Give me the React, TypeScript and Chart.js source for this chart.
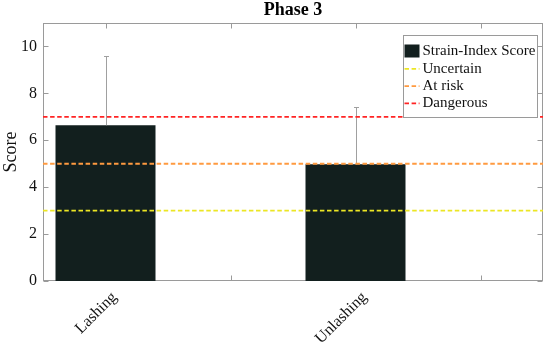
import React, { useEffect, useRef } from "react";
import { Chart, registerables } from "chart.js";

Chart.register(...registerables);

// ---- data ----
const categories = ["Lashing", "Unlashing"];
const categoryPositions = [1, 2];
const scores = [6.64, 4.98];
const upperErrors = [2.96, 2.42];
const xTickValues = [1, 1.5, 2, 2.5];
const yTickValues = [0, 2, 4, 6, 8, 10];
const xRange = [0.75, 2.75];
const yRange = [0, 11];
const thresholdNames = ["Uncertain", "At risk", "Dangerous"];
const thresholdValues = [3, 5, 7];
const thresholdColors = ["#ece624", "#ff9a40", "#ff2424"];
const barLabel = "Strain-Index Score";
const titleText = "Phase 3";
const yAxisLabel = "Score";

// ---- styles ----
const FONT = "'Liberation Serif', 'Times New Roman', Times, serif";
const BAR_COLOR = "#121f1e";
const AXIS_COLOR = "#9a9a9a";
const ERR_COLOR = "#a0a0a0";
const TEXT_COLOR = "#111";
const DASH = [4.5, 2.6];

const decorPlugin = {
  id: "decor",
  beforeDatasetsDraw(chart: any) {
    const { ctx, chartArea: a, scales } = chart;
    ctx.save();
    ctx.strokeStyle = AXIS_COLOR;
    ctx.lineWidth = 1;
    const L = Math.round(a.left) + 0.5;
    const R = Math.round(a.right) - 0.5;
    const T = Math.round(a.top) + 0.5;
    const B = Math.round(a.bottom) - 0.5;
    ctx.strokeRect(L, T, R - L, B - T);
    const tl = 5;
    ctx.beginPath();
    xTickValues.forEach((v) => {
      const x = Math.round(scales.x.getPixelForValue(v)) + 0.5;
      ctx.moveTo(x, B);
      ctx.lineTo(x, B - tl);
      ctx.moveTo(x, T);
      ctx.lineTo(x, T + tl);
    });
    yTickValues.forEach((v) => {
      const y = Math.round(scales.y.getPixelForValue(v)) + 0.5;
      ctx.moveTo(L, y);
      ctx.lineTo(L + tl, y);
      ctx.moveTo(R, y);
      ctx.lineTo(R - tl, y);
    });
    ctx.stroke();
    ctx.restore();
  },
  afterDatasetDraw(chart: any, args: any) {
    if (args.index !== 0) return;
    const { ctx, scales } = chart;
    const meta = chart.getDatasetMeta(0);
    ctx.save();
    ctx.strokeStyle = ERR_COLOR;
    ctx.lineWidth = 1;
    meta.data.forEach((bar: any, i: number) => {
      const x = Math.round(bar.x) + 0.5;
      const y0 = bar.y;
      const y1 = Math.round(scales.y.getPixelForValue(scores[i] + upperErrors[i])) + 0.5;
      ctx.beginPath();
      ctx.moveTo(x, y0);
      ctx.lineTo(x, y1);
      ctx.moveTo(x - 2.5, y1);
      ctx.lineTo(x + 2.5, y1);
      ctx.stroke();
    });
    ctx.restore();
  },
  afterDraw(chart: any) {
    const { ctx, chartArea: a } = chart;
    ctx.save();
    // title
    ctx.fillStyle = "#000";
    ctx.font = `bold 18px ${FONT}`;
    ctx.textAlign = "center";
    ctx.textBaseline = "alphabetic";
    ctx.fillText(titleText, (a.left + a.right) / 2, 15);

    // legend
    const w = 134;
    const h = 82;
    const lx = Math.round(a.right - 6 - w) + 0.5;
    const ly = Math.round(a.top + 12) + 0.5;
    ctx.fillStyle = "#fff";
    ctx.fillRect(lx, ly, w, h);
    ctx.strokeStyle = AXIS_COLOR;
    ctx.lineWidth = 1;
    ctx.strokeRect(lx, ly, w, h);
    ctx.font = `15px ${FONT}`;
    ctx.textAlign = "left";
    ctx.textBaseline = "middle";
    const rowH = 17.3;
    const y0 = ly + 16;
    const sx0 = lx + 1;
    const sx1 = lx + 16;
    const tx = lx + 19;
    // bar swatch
    ctx.fillStyle = BAR_COLOR;
    ctx.fillRect(sx0, y0 - 7, sx1 - sx0, 13);
    ctx.fillStyle = TEXT_COLOR;
    ctx.fillText(barLabel, tx, y0);
    thresholdNames.forEach((name, i) => {
      const y = y0 + rowH * (i + 1);
      ctx.strokeStyle = thresholdColors[i];
      ctx.lineWidth = 1.8;
      ctx.setLineDash(DASH);
      ctx.beginPath();
      ctx.moveTo(sx0, y);
      ctx.lineTo(sx1, y);
      ctx.stroke();
      ctx.setLineDash([]);
      ctx.fillStyle = TEXT_COLOR;
      ctx.fillText(name, tx, y);
    });
    ctx.restore();
  },
};

export default function App() {
  const ref = useRef<HTMLCanvasElement>(null);
  useEffect(() => {
    const datasets: any[] = [
      {
        type: "bar",
        label: barLabel,
        data: categoryPositions.map((x, i) => ({ x, y: scores[i] })),
        backgroundColor: BAR_COLOR,
        borderWidth: 0,
        categoryPercentage: 1,
        barPercentage: 0.8,
        order: 2,
      },
      ...thresholdNames.map((name, i) => ({
        type: "line",
        label: name,
        data: [
          { x: xRange[0], y: thresholdValues[i] },
          { x: xRange[1], y: thresholdValues[i] },
        ],
        borderColor: thresholdColors[i],
        borderWidth: 1.8,
        borderDash: DASH,
        pointRadius: 0,
        fill: false,
        order: 1,
      })),
    ];
    const chart = new Chart(ref.current as HTMLCanvasElement, {
      type: "bar",
      data: { datasets },
      plugins: [decorPlugin],
      options: {
        responsive: false,
        animation: false,
        devicePixelRatio: 1,
        layout: { padding: { top: 23, right: 7, left: 0, bottom: 0 } },
        plugins: {
          legend: { display: false },
          title: { display: false },
          tooltip: { enabled: false },
        },
        scales: {
          x: {
            type: "linear",
            min: xRange[0],
            max: xRange[1],
            offset: false,
            grid: { display: false, drawTicks: false },
            border: { display: false },
            afterBuildTicks: (s: any) => {
              s.ticks = xTickValues.map((v) => ({ value: v }));
            },
            afterFit: (s: any) => {
              s.height = 65;
            },
            ticks: {
              autoSkip: false,
              minRotation: 45,
              maxRotation: 45,
              padding: 7,
              labelOffset: 9,
              color: TEXT_COLOR,
              font: { family: FONT, size: 16 },
              callback: (value: any) => {
                const idx = categoryPositions.indexOf(Number(value));
                return idx >= 0 ? categories[idx] : "";
              },
            },
          },
          y: {
            type: "linear",
            min: yRange[0],
            max: yRange[1],
            grid: { display: false, drawTicks: false },
            border: { display: false },
            afterBuildTicks: (s: any) => {
              s.ticks = yTickValues.map((v) => ({ value: v }));
            },
            afterFit: (s: any) => {
              s.width = 43;
            },
            ticks: {
              padding: 6,
              color: TEXT_COLOR,
              font: { family: FONT, size: 16 },
            },
            title: {
              display: true,
              text: yAxisLabel,
              color: TEXT_COLOR,
              font: { family: FONT, size: 18 },
              padding: { top: 0, bottom: 0 },
            },
          },
        },
      } as any,
    });
    return () => chart.destroy();
  }, []);
  return (
    <canvas
      ref={ref}
      width={550}
      height={346}
      style={{ position: "absolute", left: 0, top: 0, width: 550, height: 346 }}
    />
  );
}
